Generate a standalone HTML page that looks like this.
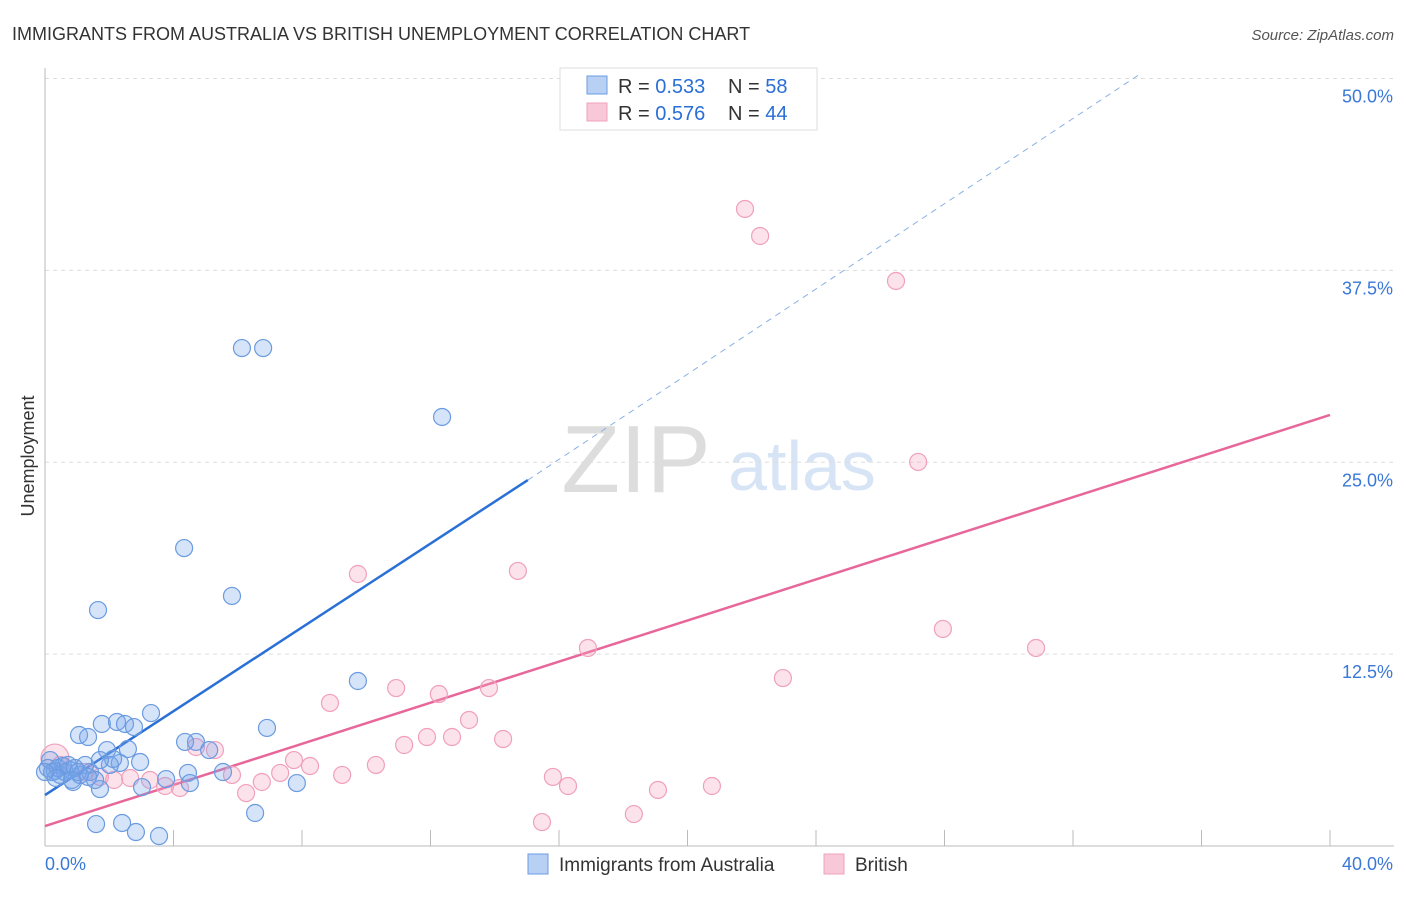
<!DOCTYPE html>
<html><head><meta charset="utf-8"><style>
body{margin:0;background:#fff;font-family:"Liberation Sans",sans-serif;}
svg text{font-family:"Liberation Sans",sans-serif;}
</style></head><body>
<svg id="chart" width="1406" height="892" xmlns="http://www.w3.org/2000/svg">
<text x="12" y="40" font-size="18" fill="#333">IMMIGRANTS FROM AUSTRALIA VS BRITISH UNEMPLOYMENT CORRELATION CHART</text>
<text x="1394" y="40" font-size="15" fill="#555" font-style="italic" text-anchor="end">Source: ZipAtlas.com</text>
<text x="34" y="456" font-size="18" fill="#333" text-anchor="middle" transform="rotate(-90 34 456)">Unemployment</text>
<text x="636" y="492" font-size="96" fill="#ddd" font-family="Liberation Serif" text-anchor="middle">ZIP</text>
<text x="802" y="490" font-size="70" fill="#d6e4f5" text-anchor="middle">atlas</text>
<g id="grid"></g><g id="axes"></g><g id="lines"></g><g id="pts"></g>
<g>
<rect x="560" y="68" width="257" height="62" fill="#fff" stroke="#ddd"/>
<rect x="587" y="76" width="20" height="18" fill="#b8d0f4" stroke="#6a9be0"/>
<rect x="587" y="103" width="20" height="18" fill="#f9c8d8" stroke="#f0a0bc"/>
<text x="618" y="93" font-size="20" fill="#333">R = <tspan fill="#2a6fd6">0.533</tspan></text>
<text x="728" y="93" font-size="20" fill="#333">N = <tspan fill="#2a6fd6">58</tspan></text>
<text x="618" y="120" font-size="20" fill="#333">R = <tspan fill="#2a6fd6">0.576</tspan></text>
<text x="728" y="120" font-size="20" fill="#333">N = <tspan fill="#2a6fd6">44</tspan></text>
</g>
<g>
<rect x="528" y="854" width="20" height="20" fill="#b8d0f4" stroke="#6a9be0"/>
<text x="559" y="871" font-size="19" fill="#333">Immigrants from Australia</text>
<rect x="824" y="854" width="20" height="20" fill="#f9c8d8" stroke="#f0a0bc"/>
<text x="855" y="871" font-size="19" fill="#333">British</text>
</g>
</svg>
<script>
const yTicks=[12.5,25,37.5,50];
const yTickLabels=["12.5%","25.0%","37.5%","50.0%"];
const xTicks=[0,4,8,12,16,20,24,28,32,36,40];
const blueX=[6.13,6.79,12.36,4.33,1.65,5.82,9.74,3.30,6.91,1.77,2.24,2.49,2.77,1.06,1.34,2.58,1.93,4.70,4.36,2.96,2.33,2.02,5.54,4.45,3.77,4.51,7.84,3.02,1.71,0.87,0.56,0.31,0.16,0.78,1.09,1.40,0.47,1.56,0.09,1.25,0.62,0.93,1.59,2.40,2.83,3.55,6.54,2.12,5.11,0.22,0.40,0.72,1.03,1.34,0.34,0.0,0.84,1.71];
const blueY=[32.44,32.44,27.95,19.41,15.37,16.29,10.75,8.66,7.69,7.95,8.08,7.95,7.75,7.23,7.10,6.32,6.25,6.78,6.78,5.47,5.41,5.28,4.82,4.76,4.36,4.10,4.10,3.84,3.71,4.17,5.21,4.89,5.60,4.95,4.63,4.82,4.63,4.30,5.08,5.28,4.82,5.08,1.43,1.50,0.91,0.65,2.15,5.67,6.25,4.82,5.08,5.28,4.82,4.50,4.43,4.82,4.30,5.60];
const pinkX=[21.79,22.26,26.49,27.18,14.72,9.74,27.95,30.85,16.90,22.97,10.93,13.82,12.26,8.87,13.20,12.67,11.89,14.26,11.18,4.70,5.29,7.75,8.25,10.30,7.32,9.25,15.81,16.28,6.75,5.82,3.27,3.74,4.20,6.26,20.76,19.08,2.15,1.71,15.47,18.33,0.31,2.65,1.25,0.47];
const pinkY=[41.50,39.74,36.81,25.02,17.92,17.72,14.14,12.90,12.90,10.94,10.29,10.29,9.90,9.32,8.21,7.10,7.10,6.97,6.58,6.45,6.25,5.60,5.21,5.28,4.76,4.63,4.50,3.91,4.17,4.63,4.30,3.91,3.78,3.45,3.91,3.65,4.30,4.50,1.56,2.08,5.73,4.43,4.82,5.28];
const blueLine=[[0,3.32],[15.03,23.84]];
const blueDash=[[15.03,23.84],[34.02,50.2]];
const pinkLine=[[0,1.30],[40,28.08]];
const NS="http://www.w3.org/2000/svg";
const sx=v=>45+v*32.125, sy=v=>846-v*15.35;
function mk(t,a,p){const e=document.createElementNS(NS,t);for(const k in a)e.setAttribute(k,a[k]);document.getElementById(p).appendChild(e);return e;}
yTicks.forEach((t,i)=>{
 const g=mk('line',{x1:45,x2:1394,y1:sy(t),y2:sy(t),stroke:'#ddd','stroke-dasharray':'4,4'},'grid');
 
 
 const tx=mk('text',{x:1393,y:sy(t)+24,'font-size':18,fill:'#3a78d8','text-anchor':'end'},'grid');
 tx.textContent=yTickLabels[i];
 
 
});
let a=mk('line',{x1:45,x2:45,y1:68,y2:846,stroke:'#bbb'},'axes');

a=mk('line',{x1:45,x2:1394,y1:846,y2:846,stroke:'#bbb'},'axes');

xTicks.forEach(t=>{const l=mk('line',{x1:sx(t),x2:sx(t),y1:830,y2:846,stroke:'#bbb'},'axes');
 
 });
[[0,'start',45,'0.0%'],[40,'end',1393,'40.0%']].forEach(d=>{const t=mk('text',{x:d[2],y:870,'font-size':18,fill:'#3a78d8','text-anchor':d[1]},'axes');t.textContent=d[3];
 
 });
function ln(p,c,w,dash,name){const l=mk('line',{x1:sx(p[0][0]),y1:sy(p[0][1]),x2:sx(p[1][0]),y2:sy(p[1][1]),stroke:c,'stroke-width':w},'lines');if(dash)l.setAttribute('stroke-dasharray',dash);
 
 }
ln(blueLine,'#2a70d6',2.5,null,'australia-trend-line');
ln(blueDash,'#8ab0e6',1,'6,5','australia-trend-extension');
ln(pinkLine,'#e8679a',2.5,null,'british-trend-line');
pinkX.forEach((x,i)=>{const c=mk('circle',{cx:sx(x),cy:sy(pinkY[i]),r:i==40?14:8.5,fill:'rgba(245,160,190,0.3)',stroke:'#f0a0bc','stroke-width':1.2},'pts');
 
 });
blueX.forEach((x,i)=>{const c=mk('circle',{cx:sx(x),cy:sy(blueY[i]),r:8.5,fill:'rgba(120,165,235,0.3)',stroke:'#6a9be0','stroke-width':1.2},'pts');
 
 });
</script>
</body></html>
